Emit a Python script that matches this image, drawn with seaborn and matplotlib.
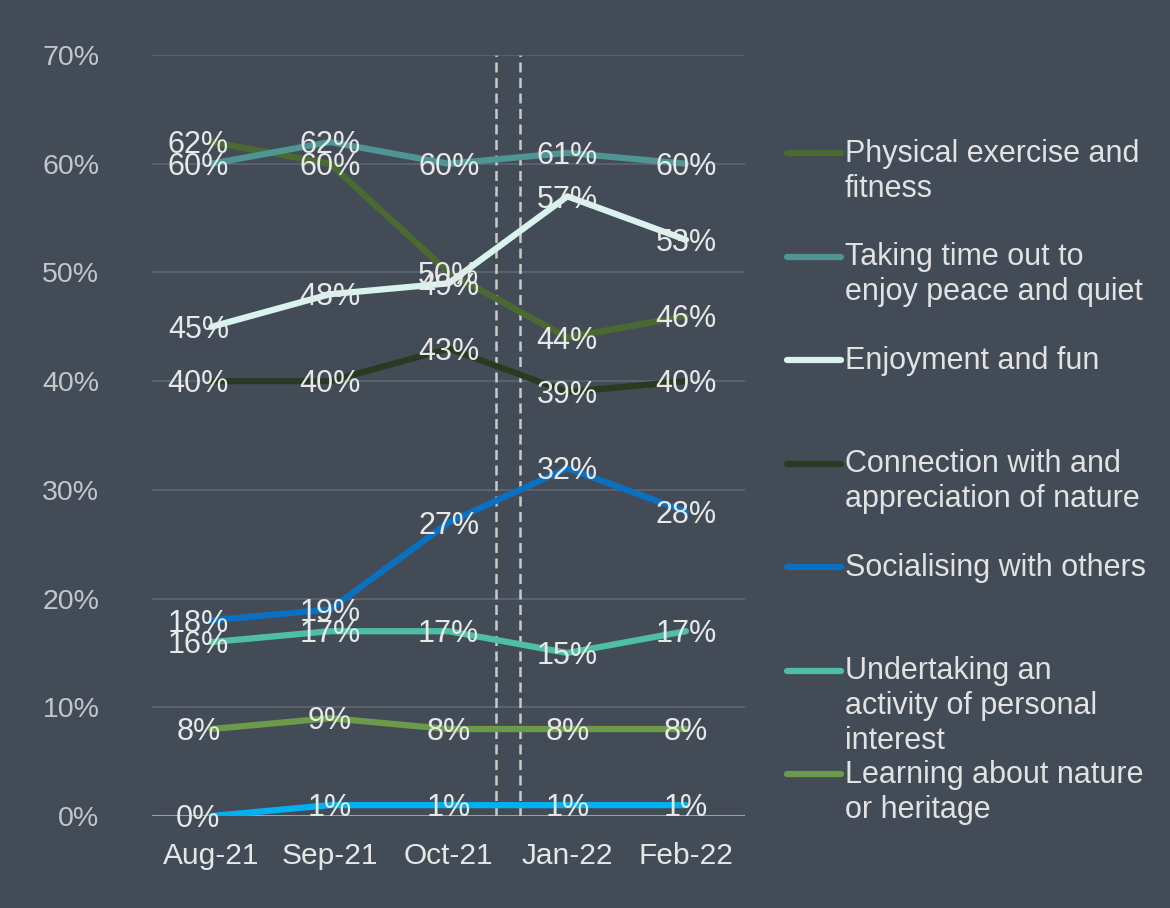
import pandas as pd
import matplotlib.pyplot as plt
import seaborn as sns
from matplotlib.lines import Line2D

months = ["Aug-21", "Sep-21", "Oct-21", "Jan-22", "Feb-22"]

physical = [62, 60, 50, 44, 46]
peace = [60, 62, 60, 61, 60]
enjoyment = [45, 48, 49, 57, 53]
connection = [40, 40, 43, 39, 40]
socialising = [18, 19, 27, 32, 28]
personal = [16, 17, 17, 15, 17]
learning = [8, 9, 8, 8, 8]
other = [0, 1, 1, 1, 1]

names = ["Physical exercise and\nfitness",
         "Taking time out to\nenjoy peace and quiet",
         "Enjoyment and fun",
         "Connection with and\nappreciation of nature",
         "Socialising with others",
         "Undertaking an\nactivity of personal\ninterest",
         "Learning about nature\nor heritage",
         "Other"]
colors = ["#4a6a31", "#4f9594", "#d9f4ee", "#293a21",
          "#0a70c2", "#4fbfa4", "#6b9a4a", "#00b0f0"]
series = [physical, peace, enjoyment, connection,
          socialising, personal, learning, other]

rows = []
for name, vals in zip(names, series):
    for m, v in zip(months, vals):
        rows.append({"month": m, "value": v, "series": name})
df = pd.DataFrame(rows)

bg = "#434c56"
sns.set_theme(style="white", rc={"figure.facecolor": bg, "axes.facecolor": bg})
plt.rcParams["font.family"] = ["Liberation Sans", "DejaVu Sans"]

fig = plt.figure(figsize=(11.7, 9.08), dpi=100)
ax = fig.add_axes([0.130, 0.1013, 0.507, 0.8381])

sns.lineplot(data=df, x="month", y="value", hue="series", hue_order=names,
             palette=dict(zip(names, colors)), sort=False, linewidth=4.5,
             solid_capstyle="round", legend=False, ax=ax, zorder=3)

ax.set_xlim(-0.5, 4.5)
ax.set_ylim(0, 70)
ax.set_yticks(range(0, 71, 10))
ax.set_yticklabels([f"{t}%" for t in range(0, 71, 10)])
for t in range(10, 71, 10):
    ax.axhline(t, color="#59626c", lw=1.5, zorder=0)
ax.axhline(0, color="#a8abae", lw=2, zorder=1)
for xd in [2.4, 2.6]:
    ax.axvline(xd, color="#c9c9c9", lw=1.8, ls=(0, (4, 2.2)), zorder=2)

for s in ax.spines.values():
    s.set_visible(False)
ax.tick_params(axis="y", length=0, pad=38, labelsize=20.5, labelcolor="#c4c7ca")
ax.tick_params(axis="x", length=0, pad=19, labelsize=21.5, labelcolor="#e6e6e6")
ax.set_xlabel("")
ax.set_ylabel("")

for vals in series:
    for i, v in enumerate(vals):
        shift = -0.11 if i == 0 else 0
        ax.text(i + shift, v - 0.3, f"{v}%", ha="center", va="center",
                fontsize=22, color="#e8e8e8", zorder=5)

# legend drawn by hand so entries sit in even slots like the original
W, H = 1170, 908
for k, (name, c) in enumerate(zip(names[:7], colors[:7])):
    yp = 153 + k * 103.5
    fig.add_artist(Line2D([787 / W, 841 / W], [1 - yp / H, 1 - yp / H],
                          color=c, lw=4.5, solid_capstyle="round",
                          transform=fig.transFigure))
    fig.text(845 / W, 1 - (yp - 14) / H, name, ha="left", va="top",
             fontsize=22, color="#e2e2e2", linespacing=1.2)

fig.savefig("out.png", dpi=100, facecolor=bg)
